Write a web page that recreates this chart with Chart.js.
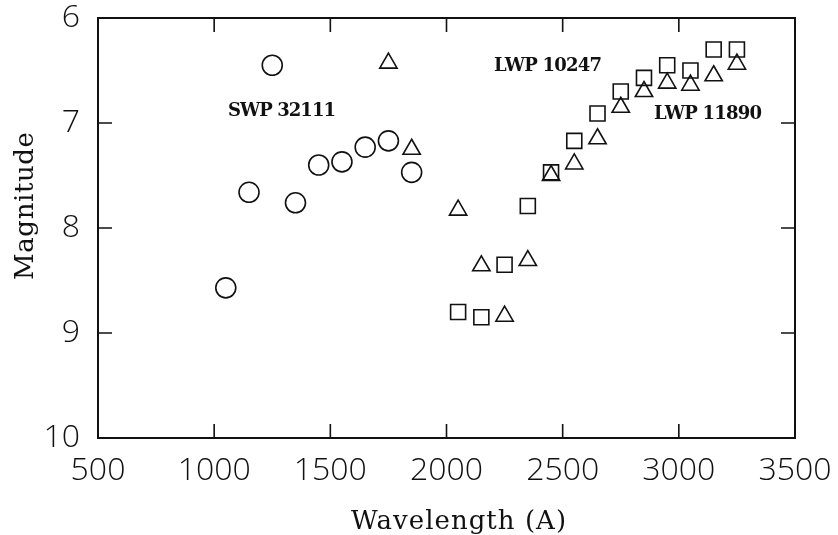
<!DOCTYPE html>
<html>
<head>
<meta charset="utf-8">
<script src="https://cdn.jsdelivr.net/npm/chart.js@4.4.1/dist/chart.umd.min.js"></script>
<style>
  html, body { margin: 0; padding: 0; background: #fff; }
  #wrap { width: 838px; height: 535px; position: relative; }
</style>
</head>
<body>
<div id="wrap"><canvas id="myChart"></canvas></div>
<script>
// SWP 32111 (circles)
const swpWave = [1050, 1150, 1250, 1350, 1450, 1550, 1650, 1750, 1850];
const swpMag = [8.57, 7.66, 6.45, 7.76, 7.40, 7.37, 7.23, 7.17, 7.47];

// LWP 10247 (squares)
const lwpAWave = [2050, 2150, 2250, 2350, 2450, 2550, 2650, 2750, 2850, 2950, 3050, 3150, 3250];
const lwpAMag = [8.80, 8.85, 8.35, 7.79, 7.47, 7.17, 6.91, 6.70, 6.57, 6.45, 6.50, 6.30, 6.30];

// LWP 11890 (triangles)
const lwpBWave = [1750, 1850, 2050, 2150, 2250, 2350, 2450, 2550, 2650, 2750, 2850, 2950, 3050, 3150, 3250];
const lwpBMag = [6.43, 7.25, 7.83, 8.36, 8.84, 8.31, 7.50, 7.39, 7.15, 6.85, 6.70, 6.62, 6.64, 6.55, 6.44];

const xTicks = [500, 1000, 1500, 2000, 2500, 3000, 3500];
const yTicks = [6, 7, 8, 9, 10];

// text labels placed in data coordinates (centre of the text)
const noteText = ['SWP 32111', 'LWP 10247', 'LWP 11890'];
const noteX = [1292, 2437, 3126];
const noteY = [6.89, 6.46, 6.92];

function toPoints(xs, ys) {
  return xs.map((v, i) => ({ x: v, y: ys[i] }));
}

// draw text starting at x so that it spans about `width` px
function spreadText(ctx, text, x, y, width) {
  ctx.letterSpacing = '0px';
  const w = ctx.measureText(text).width;
  const ls = (width - w) / (text.length - 1);
  ctx.letterSpacing = ls.toFixed(2) + 'px';
  ctx.fillText(text, x, y);
  ctx.letterSpacing = '0px';
}

// box + inward tick marks on all four sides, axis titles, notes
const framePlugin = {
  id: 'frame',
  afterDraw(chart) {
    const ctx = chart.ctx;
    const a = chart.chartArea;
    const xs = chart.scales.x, ys = chart.scales.y;
    const tl = 14;
    ctx.save();
    ctx.strokeStyle = '#111';
    ctx.lineWidth = 2;
    ctx.strokeRect(a.left, a.top, a.right - a.left, a.bottom - a.top);
    ctx.lineWidth = 1.6;
    ctx.beginPath();
    xTicks.forEach(v => {
      const px = xs.getPixelForValue(v);
      ctx.moveTo(px, a.bottom); ctx.lineTo(px, a.bottom - tl);
      ctx.moveTo(px, a.top); ctx.lineTo(px, a.top + tl);
    });
    yTicks.forEach(v => {
      const py = ys.getPixelForValue(v);
      ctx.moveTo(a.left, py); ctx.lineTo(a.left + tl, py);
      ctx.moveTo(a.right, py); ctx.lineTo(a.right - tl, py);
    });
    ctx.stroke();

    ctx.fillStyle = '#111';
    ctx.textAlign = 'left';
    ctx.textBaseline = 'middle';
    ctx.font = 'bold 18px "DejaVu Serif"';
    noteText.forEach((t, i) => {
      spreadText(ctx, t, xs.getPixelForValue(noteX[i]) - 54, ys.getPixelForValue(noteY[i]), 108);
    });

    ctx.textBaseline = 'alphabetic';
    ctx.font = '26px "DejaVu Serif"';
    spreadText(ctx, 'Wavelength (A)', 351, 529, 215);

    ctx.translate(33, 280);
    ctx.rotate(-Math.PI / 2);
    spreadText(ctx, 'Magnitude', 0, 0, 148);
    ctx.restore();
  }
};

const tickFont = { family: '"Open Sans", "Liberation Sans", sans-serif', size: 32, weight: 300 };

const ctx = document.getElementById('myChart').getContext('2d');
const chart = new Chart(ctx, {
  type: 'scatter',
  data: {
    datasets: [
      { label: 'SWP 32111', data: toPoints(swpWave, swpMag), pointStyle: 'circle',
        pointRadius: 10, borderColor: '#111', borderWidth: 1.6, backgroundColor: 'rgba(0,0,0,0)' },
      { label: 'LWP 10247', data: toPoints(lwpAWave, lwpAMag), pointStyle: 'rect',
        pointRadius: 10.6, borderColor: '#111', borderWidth: 1.6, backgroundColor: 'rgba(0,0,0,0)' },
      { label: 'LWP 11890', data: toPoints(lwpBWave, lwpBMag), pointStyle: 'triangle',
        pointRadius: 10, borderColor: '#111', borderWidth: 1.6, backgroundColor: 'rgba(0,0,0,0)' }
    ]
  },
  options: {
    responsive: true,
    maintainAspectRatio: false,
    animation: false,
    events: [],
    layout: { padding: { top: 18, right: 43, left: 0, bottom: 0 } },
    plugins: { legend: { display: false }, tooltip: { enabled: false } },
    scales: {
      x: {
        type: 'linear', min: 500, max: 3500,
        afterBuildTicks: s => { s.ticks = xTicks.map(v => ({ value: v })); },
        afterFit: s => { s.height = 97; s.paddingLeft = 0; s.paddingRight = 0; },
        grid: { display: false, drawTicks: false },
        border: { display: false },
        ticks: { color: '#111', font: tickFont, padding: 14, maxRotation: 0, autoSkip: false,
          callback: v => String(v) }
      },
      y: {
        type: 'linear', min: 6, max: 10, reverse: true,
        afterBuildTicks: s => { s.ticks = yTicks.map(v => ({ value: v })); },
        afterFit: s => { s.width = 98; s.paddingTop = 0; s.paddingBottom = 0; },
        grid: { display: false, drawTicks: false },
        border: { display: false },
        ticks: { color: '#111', font: tickFont, padding: 18, autoSkip: false,
          callback: v => String(v) }
      }
    }
  },
  plugins: [framePlugin]
});
</script>
</body>
</html>
